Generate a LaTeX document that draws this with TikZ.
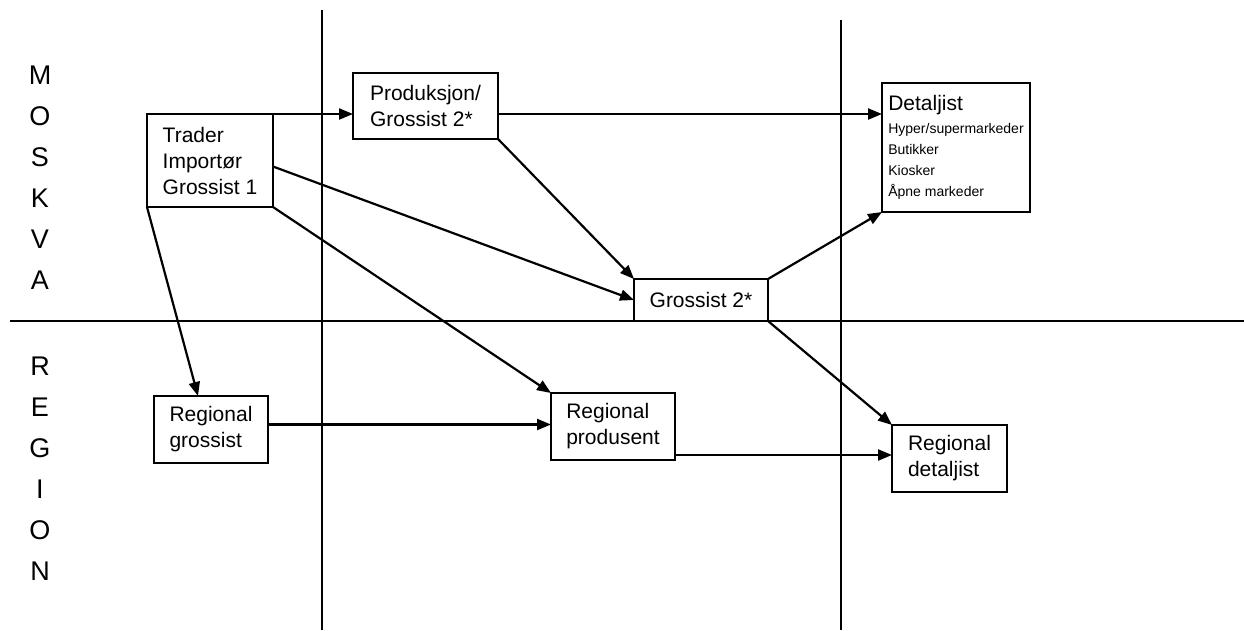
\documentclass[tikz,border=0pt]{standalone}
\usepackage{fontspec}
\setmainfont{Liberation Sans}
\usetikzlibrary{arrows.meta}
\begin{document}
\begin{tikzpicture}[x=1pt,y=-1pt,
  box/.style={draw,line width=1.5pt,inner sep=0pt,outer sep=0pt,align=left,
    font=\fontsize{21}{26}\selectfont},
  divider/.style={line width=1.4pt},
  flow/.style={line width=2.2pt,-{Triangle[length=14pt,width=11pt]}},
  side/.style={align=center,font=\fontsize{27}{41}\selectfont}]
\useasboundingbox (0,0) rectangle (1244,630);
% divider lines
\coordinate (hl) at (10,321);
\coordinate (hr) at (1244,321);
\coordinate (v1t) at (322,10);
\coordinate (v1b) at (322,630);
\coordinate (v2t) at (841,20);
\coordinate (v2b) at (841,630);
\draw[divider] (hl) -- (hr);
\draw[divider] (v1t) -- (v1b);
\draw[divider] (v2t) -- (v2b);
% side labels
\node[side] (moskva) at (40,178) {M\\O\\S\\K\\V\\A};
\node[side] (region) at (40,469) {R\\E\\G\\I\\O\\N};
% boxes
\node[box,minimum width=126pt,minimum height=93pt] (trader) at (210,160.5) {Trader\\Importør\\Grossist 1};
\node[box,minimum width=145pt,minimum height=66pt] (prod) at (425.5,106) {Produksjon/\\Grossist 2*};
\node[box,minimum width=148pt,minimum height=129pt,font=\fontsize{14}{21}\selectfont] (det) at (956,147.5)
  {{\fontsize{21}{26}\selectfont Detaljist}\\[2pt]Hyper/supermarkeder\\Butikker\\Kiosker\\Åpne markeder};
\node[box,minimum width=134pt,minimum height=42pt] (g2) at (701,300) {Grossist 2*};
\node[box,minimum width=114pt,minimum height=67pt] (rgross) at (211,429.5) {Regional\\grossist};
\node[box,minimum width=124pt,minimum height=67pt] (rprod) at (613,426.5) {Regional\\produsent};
\node[box,minimum width=115pt,minimum height=67pt] (rdet) at (949.5,458.5) {Regional\\detaljist};
% connectors
\draw[flow] (trader.north east) -- (trader.north east -| prod.west);
\draw[flow] (trader.north east -| prod.east) -- (trader.north east -| det.west);
\draw[flow] (prod.south east) -- (g2.north west);
\draw[flow] ([yshift=-6pt]trader.east) -- (g2.west);
\draw[flow] (g2.north east) -- (det.south west);
\draw[flow] (g2.south east) -- (rdet.north west);
\draw[flow] (trader.south west) -- ([xshift=-13pt]rgross.north);
\draw[flow] (trader.south east) -- (rprod.north west);
\draw[flow] ([yshift=5pt]rgross.east) -- ([yshift=5pt]rgross.east -| rprod.west);
\draw[flow] ([yshift=5pt]rprod.south east) -- ([yshift=5pt]rprod.south east -| rdet.west);
\end{tikzpicture}
\end{document}
